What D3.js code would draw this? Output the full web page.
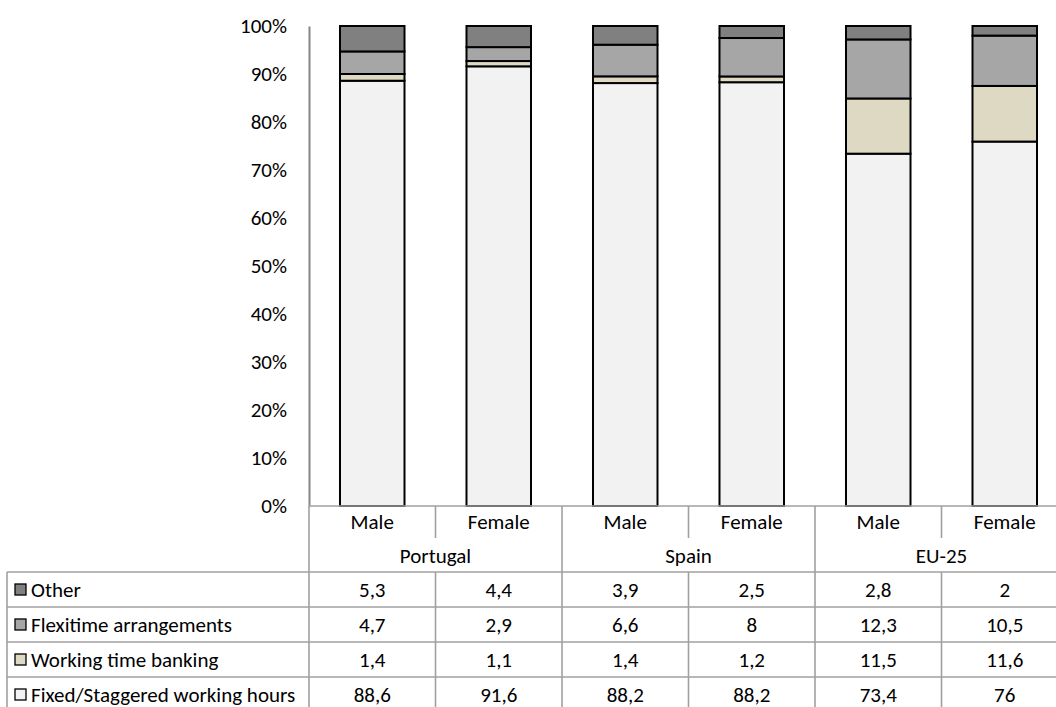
<!DOCTYPE html>
<html><head><meta charset="utf-8">
<script src="https://cdn.jsdelivr.net/npm/d3@7"></script>
<style>body{margin:0;background:#fff}svg{display:block}text{font-family:Carlito,Lato,"Open Sans",sans-serif;fill:#000}</style>
</head><body><svg id="c" width="1056" height="707"></svg>
<script>
const categories = ["Male","Female","Male","Female","Male","Female"];
const groups = ["Portugal","Spain","EU-25"];
const seriesNames = ["Other","Flexitime arrangements","Working time banking","Fixed/Staggered working hours"];
const other = [5.3,4.4,3.9,2.5,2.8,2];
const flexitime = [4.7,2.9,6.6,8,12.3,10.5];
const banking = [1.4,1.1,1.4,1.2,11.5,11.6];
const fixed = [88.6,91.6,88.2,88.2,73.4,76];
const valueLabels = [["5,3","4,4","3,9","2,5","2,8","2"],["4,7","2,9","6,6","8","12,3","10,5"],["1,4","1,1","1,4","1,2","11,5","11,6"],["88,6","91,6","88,2","88,2","73,4","76"]];
const yTicks = [0,0.1,0.2,0.3,0.4,0.5,0.6,0.7,0.8,0.9,1];
const colors = {"Other":"#808080","Flexitime arrangements":"#a6a6a6","Working time banking":"#ddd9c3","Fixed/Staggered working hours":"#f2f2f2"};

const svg = d3.select("#c");
const x0 = 309, step = 126.5, xEnd = x0 + step*categories.length;
const idx = d3.range(categories.length);
const x = d3.scaleBand().domain(idx).range([x0, xEnd]).paddingInner(0.49).paddingOuter(0.245);
const xc = d3.scaleBand().domain(idx).range([x0, xEnd]);
const y = d3.scaleLinear().domain([0,1]).range([506, 26]);
const fs = 21;

const rows = idx.map(i => ({i, "Fixed/Staggered working hours": fixed[i], "Working time banking": banking[i], "Flexitime arrangements": flexitime[i], "Other": other[i]}));
const stackKeys = ["Fixed/Staggered working hours","Working time banking","Flexitime arrangements","Other"];
const stacked = d3.stack().keys(stackKeys).offset(d3.stackOffsetExpand)(rows);

// y axis
const yAxis = d3.axisLeft(y).tickValues(yTicks).tickFormat(d3.format(".0%")).tickSize(0).tickPadding(22);
const ga = svg.append("g").attr("transform", `translate(${x0},0)`).call(yAxis);
ga.select(".domain").attr("stroke","#868686").attr("stroke-width",2);
ga.selectAll("text").attr("font-size",fs).style("font-family","Carlito,Lato,'Open Sans',sans-serif");

// bars
svg.append("g").selectAll("g").data(stacked).join("g")
  .attr("fill", d => colors[d.key])
  .selectAll("rect").data(d => d).join("rect")
  .attr("x", d => x(d.data.i)).attr("width", x.bandwidth())
  .attr("y", d => y(d[1])).attr("height", d => y(d[0]) - y(d[1]))
  .attr("stroke","#000").attr("stroke-width",2);

// table
const tb = svg.append("g");
const lc = "#a0a0a0", lw = 1.6;
const rTop = 506, r1 = 538, r2 = 572, rowH = 35, tEnd = 707, leftX = 7;
tb.append("line").attr("x1",x0).attr("x2",1056).attr("y1",rTop).attr("y2",rTop).attr("stroke",lc).attr("stroke-width",lw);
[0,1,2,3].forEach(k => {
  const yy = r2 + k*rowH;
  tb.append("line").attr("x1",leftX).attr("x2",1056).attr("y1",yy).attr("y2",yy).attr("stroke",lc).attr("stroke-width",lw);
});
tb.append("line").attr("x1",leftX).attr("x2",leftX).attr("y1",r2).attr("y2",tEnd).attr("stroke",lc).attr("stroke-width",lw);
tb.append("line").attr("x1",x0).attr("x2",x0).attr("y1",rTop).attr("y2",tEnd).attr("stroke",lc).attr("stroke-width",lw);
idx.forEach(i => {
  const xx = xc(i) + xc.bandwidth();
  const groupEnd = (i % 2 === 1);
  tb.append("line").attr("x1",xx).attr("x2",xx).attr("y1", rTop).attr("y2", groupEnd ? tEnd : r1)
    .attr("stroke",lc).attr("stroke-width",lw);
  if (!groupEnd) tb.append("line").attr("x1",xx).attr("x2",xx).attr("y1",r2).attr("y2",tEnd).attr("stroke",lc).attr("stroke-width",lw);
});
tb.selectAll("text.cat").data(idx).join("text").attr("class","cat")
  .attr("x", i => xc(i) + xc.bandwidth()/2).attr("y", 522).attr("dy","0.35em")
  .attr("text-anchor","middle").attr("font-size",fs).text(i => categories[i]);
tb.selectAll("text.grp").data(groups).join("text").attr("class","grp")
  .attr("x", (g,k) => xc(2*k) + xc.bandwidth()).attr("y", 556).attr("dy","0.35em")
  .attr("text-anchor","middle").attr("font-size",fs).text(g => g);
seriesNames.forEach((s, r) => {
  const cy = r2 + r*rowH + rowH/2;
  tb.append("rect").attr("x",15).attr("y",cy-5.5).attr("width",11).attr("height",11)
    .attr("fill",colors[s]).attr("stroke","#000").attr("stroke-width",1.3);
  tb.append("text").attr("x",31).attr("y",cy).attr("dy","0.35em").attr("font-size",fs).text(s);
  idx.forEach(i => {
    tb.append("text").attr("x", xc(i)+xc.bandwidth()/2).attr("y",cy).attr("dy","0.35em")
      .attr("text-anchor","middle").attr("font-size",fs).text(valueLabels[r][i]);
  });
});
</script></body></html>
